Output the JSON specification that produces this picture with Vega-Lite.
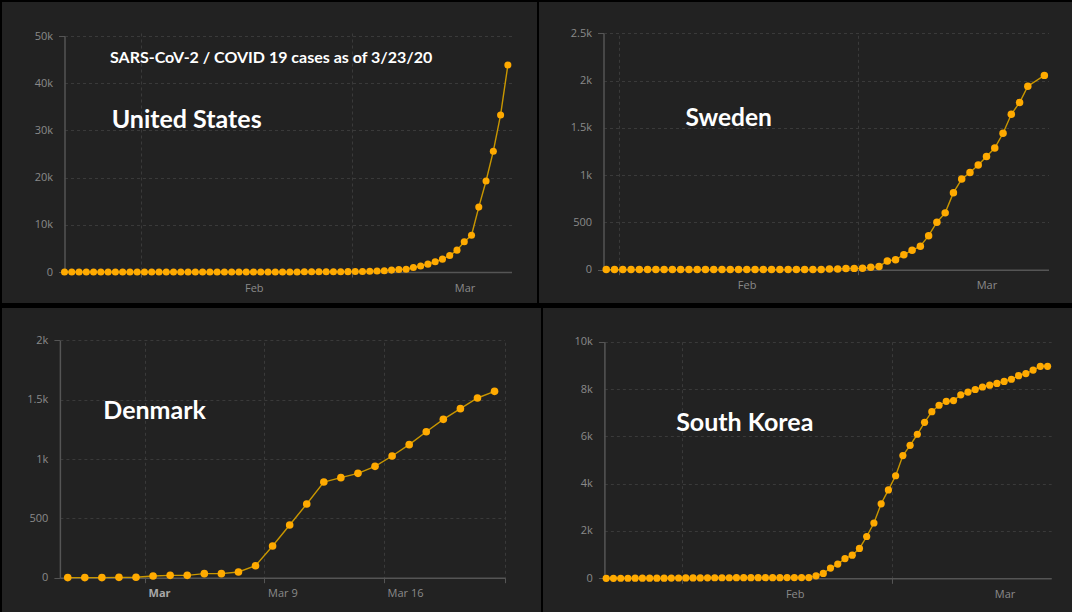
{
  "$schema": "https://vega.github.io/schema/vega-lite/v6.json",
  "background": "#000000",
  "padding": {"left": 2, "top": 2, "right": 0, "bottom": 0},
  "config": {
    "view": {"stroke": null, "fill": "#222222"},
    "axis": {"labelFont": "Open Sans", "labelFontSize": 11, "labelColor": "#8a8a8a", "domainColor": "#555555", "domainWidth": 1.5, "tickColor": "#555555", "tickSize": 5, "gridColor": "#3a3a3a", "gridDash": [3, 3], "labelFlush": false, "labelOverlap": false, "labelPadding": 5, "grid": true},
    "axisY": {"tickSize": 6, "labelPadding": 6, "labelExpr": "datum.value >= 1000 ? (datum.value / 1000) + 'k' : '' + datum.value"},
    "text": {"align": "left", "baseline": "alphabetic", "font": "Lato", "fontWeight": "bold", "fill": "#ffffff"}
  },
  "datasets": {
    "us": [
      {"date":"2020-01-22","cases":1},{"date":"2020-01-23","cases":1},{"date":"2020-01-24","cases":2},{"date":"2020-01-25","cases":2},{"date":"2020-01-26","cases":5},{"date":"2020-01-27","cases":5},{"date":"2020-01-28","cases":5},{"date":"2020-01-29","cases":5},{"date":"2020-01-30","cases":5},{"date":"2020-01-31","cases":7},
      {"date":"2020-02-01","cases":8},{"date":"2020-02-02","cases":8},{"date":"2020-02-03","cases":11},{"date":"2020-02-04","cases":11},{"date":"2020-02-05","cases":11},{"date":"2020-02-06","cases":11},{"date":"2020-02-07","cases":11},{"date":"2020-02-08","cases":11},{"date":"2020-02-09","cases":11},{"date":"2020-02-10","cases":11},
      {"date":"2020-02-11","cases":12},{"date":"2020-02-12","cases":12},{"date":"2020-02-13","cases":13},{"date":"2020-02-14","cases":13},{"date":"2020-02-15","cases":13},{"date":"2020-02-16","cases":13},{"date":"2020-02-17","cases":13},{"date":"2020-02-18","cases":13},{"date":"2020-02-19","cases":13},{"date":"2020-02-20","cases":13},
      {"date":"2020-02-21","cases":15},{"date":"2020-02-22","cases":15},{"date":"2020-02-23","cases":15},{"date":"2020-02-24","cases":51},{"date":"2020-02-25","cases":51},{"date":"2020-02-26","cases":57},{"date":"2020-02-27","cases":58},{"date":"2020-02-28","cases":60},{"date":"2020-02-29","cases":68},
      {"date":"2020-03-01","cases":74},{"date":"2020-03-02","cases":98},{"date":"2020-03-03","cases":118},{"date":"2020-03-04","cases":149},{"date":"2020-03-05","cases":217},{"date":"2020-03-06","cases":262},{"date":"2020-03-07","cases":402},{"date":"2020-03-08","cases":518},{"date":"2020-03-09","cases":583},{"date":"2020-03-10","cases":959},
      {"date":"2020-03-11","cases":1281},{"date":"2020-03-12","cases":1663},{"date":"2020-03-13","cases":2179},{"date":"2020-03-14","cases":2727},{"date":"2020-03-15","cases":3499},{"date":"2020-03-16","cases":4632},{"date":"2020-03-17","cases":6421},{"date":"2020-03-18","cases":7783},{"date":"2020-03-19","cases":13747},{"date":"2020-03-20","cases":19273},
      {"date":"2020-03-21","cases":25600},{"date":"2020-03-22","cases":33276},{"date":"2020-03-23","cases":43847}
    ],
    "se": [
      {"date":"2020-01-31","cases":1},
      {"date":"2020-02-01","cases":1},{"date":"2020-02-02","cases":1},{"date":"2020-02-03","cases":1},{"date":"2020-02-04","cases":1},{"date":"2020-02-05","cases":1},{"date":"2020-02-06","cases":1},{"date":"2020-02-07","cases":1},{"date":"2020-02-08","cases":1},{"date":"2020-02-09","cases":1},{"date":"2020-02-10","cases":1},
      {"date":"2020-02-11","cases":1},{"date":"2020-02-12","cases":1},{"date":"2020-02-13","cases":1},{"date":"2020-02-14","cases":1},{"date":"2020-02-15","cases":1},{"date":"2020-02-16","cases":1},{"date":"2020-02-17","cases":1},{"date":"2020-02-18","cases":1},{"date":"2020-02-19","cases":1},{"date":"2020-02-20","cases":1},
      {"date":"2020-02-21","cases":1},{"date":"2020-02-22","cases":1},{"date":"2020-02-23","cases":1},{"date":"2020-02-24","cases":1},{"date":"2020-02-25","cases":1},{"date":"2020-02-26","cases":2},{"date":"2020-02-27","cases":7},{"date":"2020-02-28","cases":7},{"date":"2020-02-29","cases":12},
      {"date":"2020-03-01","cases":14},{"date":"2020-03-02","cases":15},{"date":"2020-03-03","cases":25},{"date":"2020-03-04","cases":33},{"date":"2020-03-05","cases":92},{"date":"2020-03-06","cases":105},{"date":"2020-03-07","cases":159},{"date":"2020-03-08","cases":205},{"date":"2020-03-09","cases":248},{"date":"2020-03-10","cases":360},
      {"date":"2020-03-11","cases":502},{"date":"2020-03-12","cases":601},{"date":"2020-03-13","cases":815},{"date":"2020-03-14","cases":958},{"date":"2020-03-15","cases":1027},{"date":"2020-03-16","cases":1108},{"date":"2020-03-17","cases":1198},{"date":"2020-03-18","cases":1287},{"date":"2020-03-19","cases":1443},{"date":"2020-03-20","cases":1644},
      {"date":"2020-03-21","cases":1768},{"date":"2020-03-22","cases":1940},{"date":"2020-03-24","cases":2055}
    ],
    "dk": [
      {"date":"2020-02-27","cases":1},{"date":"2020-02-28","cases":1},{"date":"2020-02-29","cases":1},{"date":"2020-03-01","cases":3},{"date":"2020-03-02","cases":4},{"date":"2020-03-03","cases":14},{"date":"2020-03-04","cases":20},{"date":"2020-03-05","cases":20},{"date":"2020-03-06","cases":34},{"date":"2020-03-07","cases":34},
      {"date":"2020-03-08","cases":48},{"date":"2020-03-09","cases":101},{"date":"2020-03-10","cases":267},{"date":"2020-03-11","cases":444},{"date":"2020-03-12","cases":621},{"date":"2020-03-13","cases":806},{"date":"2020-03-14","cases":843},{"date":"2020-03-15","cases":879},{"date":"2020-03-16","cases":938},{"date":"2020-03-17","cases":1025},
      {"date":"2020-03-18","cases":1121},{"date":"2020-03-19","cases":1230},{"date":"2020-03-20","cases":1334},{"date":"2020-03-21","cases":1424},{"date":"2020-03-22","cases":1514},{"date":"2020-03-23","cases":1570}
    ],
    "kr": [
      {"date":"2020-01-22","cases":1},{"date":"2020-01-23","cases":1},{"date":"2020-01-24","cases":2},{"date":"2020-01-25","cases":2},{"date":"2020-01-26","cases":3},{"date":"2020-01-27","cases":4},{"date":"2020-01-28","cases":4},{"date":"2020-01-29","cases":4},{"date":"2020-01-30","cases":4},{"date":"2020-01-31","cases":11},
      {"date":"2020-02-01","cases":12},{"date":"2020-02-02","cases":15},{"date":"2020-02-03","cases":15},{"date":"2020-02-04","cases":16},{"date":"2020-02-05","cases":19},{"date":"2020-02-06","cases":23},{"date":"2020-02-07","cases":24},{"date":"2020-02-08","cases":24},{"date":"2020-02-09","cases":25},{"date":"2020-02-10","cases":27},
      {"date":"2020-02-11","cases":28},{"date":"2020-02-12","cases":28},{"date":"2020-02-13","cases":28},{"date":"2020-02-14","cases":28},{"date":"2020-02-15","cases":28},{"date":"2020-02-16","cases":29},{"date":"2020-02-17","cases":30},{"date":"2020-02-18","cases":31},{"date":"2020-02-19","cases":31},{"date":"2020-02-20","cases":104},
      {"date":"2020-02-21","cases":204},{"date":"2020-02-22","cases":433},{"date":"2020-02-23","cases":602},{"date":"2020-02-24","cases":833},{"date":"2020-02-25","cases":977},{"date":"2020-02-26","cases":1261},{"date":"2020-02-27","cases":1766},{"date":"2020-02-28","cases":2337},{"date":"2020-02-29","cases":3150},
      {"date":"2020-03-01","cases":3736},{"date":"2020-03-02","cases":4335},{"date":"2020-03-03","cases":5186},{"date":"2020-03-04","cases":5621},{"date":"2020-03-05","cases":6088},{"date":"2020-03-06","cases":6593},{"date":"2020-03-07","cases":7041},{"date":"2020-03-08","cases":7314},{"date":"2020-03-09","cases":7478},{"date":"2020-03-10","cases":7513},
      {"date":"2020-03-11","cases":7755},{"date":"2020-03-12","cases":7869},{"date":"2020-03-13","cases":7979},{"date":"2020-03-14","cases":8086},{"date":"2020-03-15","cases":8162},{"date":"2020-03-16","cases":8236},{"date":"2020-03-17","cases":8320},{"date":"2020-03-18","cases":8413},{"date":"2020-03-19","cases":8565},{"date":"2020-03-20","cases":8652},
      {"date":"2020-03-21","cases":8799},{"date":"2020-03-22","cases":8960},{"date":"2020-03-23","cases":8961}
    ]
  },
  "vconcat": [
    {
      "spacing": 2,
      "hconcat": [
        {
          "width": 535, "height": 301,
          "layer": [
            {"data": {"name": "us"},
              "mark": {"type": "line", "color": "#C99700", "strokeWidth": 1.4},
              "encoding": {
                "x": {"field": "date", "type": "temporal",
                  "scale": {"type": "utc", "domain": [{"year": 2020, "month": 1, "date": 22, "utc": true}, {"year": 2020, "month": 3, "date": 23, "hours": 12, "utc": true}], "range": [62.5, 509.5]},
                  "axis": {"title": null, "values": [{"year": 2020, "month": 2, "date": 1, "hours": 12, "utc": true}, {"year": 2020, "month": 3, "date": 1, "hours": 12, "utc": true}], "labelExpr": "utcFormat(datum.value, '%b')", "labelOffset": 113, "offset": -31}},
                "y": {"field": "cases", "type": "quantitative",
                  "scale": {"domain": [0, 50000], "range": [270, 34], "nice": false},
                  "axis": {"title": null, "values": [0, 10000, 20000, 30000, 40000, 50000], "offset": -62.5,
                    "tickColor": {"condition": {"test": "datum.value == 0 || datum.value == 50000", "value": "#555555"}, "value": "transparent"}}}
              }},
            {"data": {"name": "us"},
              "mark": {"type": "circle", "color": "#FFAA00", "size": 50, "opacity": 1},
              "encoding": {"x": {"field": "date", "type": "temporal"}, "y": {"field": "cases", "type": "quantitative"}}},
            {"data": {"values": [{"label": "SARS-CoV-2 / COVID 19 cases as of 3/23/20"}]},
              "mark": {"type": "text", "fontSize": 16},
              "encoding": {"x": {"datum": 1580192100000, "type": "temporal"}, "y": {"datum": 44216, "type": "quantitative"}, "text": {"field": "label", "type": "nominal"}}},
            {"data": {"values": [{"label": "United States"}]},
              "mark": {"type": "text", "fontSize": 25},
              "encoding": {"x": {"datum": 1580212200000, "type": "temporal"}, "y": {"datum": 30445, "type": "quantitative"}, "text": {"field": "label", "type": "nominal"}}}
          ]
        },
        {
          "width": 533, "height": 301,
          "layer": [
            {"data": {"name": "se"},
              "mark": {"type": "line", "color": "#C99700", "strokeWidth": 1.4},
              "encoding": {
                "x": {"field": "date", "type": "temporal",
                  "scale": {"type": "utc", "domain": [{"year": 2020, "month": 1, "date": 30, "hours": 16, "utc": true}, {"year": 2020, "month": 3, "date": 24, "hours": 12, "utc": true}], "range": [64.5, 509.5]},
                  "axis": {"title": null, "values": [{"year": 2020, "month": 2, "date": 1, "hours": 12, "utc": true}, {"year": 2020, "month": 3, "date": 1, "hours": 12, "utc": true}], "labelExpr": "utcFormat(datum.value, '%b')", "labelOffset": 128, "offset": -33.3}},
                "y": {"field": "cases", "type": "quantitative",
                  "scale": {"domain": [0, 2500], "range": [267.7, 31.3], "nice": false},
                  "axis": {"title": null, "values": [0, 500, 1000, 1500, 2000, 2500], "offset": -64.5,
                    "tickColor": {"condition": {"test": "datum.value == 0 || datum.value == 2500", "value": "#555555"}, "value": "transparent"}}}
              }},
            {"data": {"name": "se"},
              "mark": {"type": "circle", "color": "#FFAA00", "size": 56, "opacity": 1},
              "encoding": {"x": {"field": "date", "type": "temporal"}, "y": {"field": "cases", "type": "quantitative"}}},
            {"data": {"values": [{"label": "Sweden"}]},
              "mark": {"type": "text", "fontSize": 24.5},
              "encoding": {"x": {"datum": 1581256200000, "type": "temporal"}, "y": {"datum": 1520, "type": "quantitative"}, "text": {"field": "label", "type": "nominal"}}}
          ]
        }
      ]
    },
    {
      "spacing": 2,
      "hconcat": [
        {
          "width": 539, "height": 304,
          "layer": [
            {"data": {"name": "dk"},
              "mark": {"type": "line", "color": "#C99700", "strokeWidth": 1.4},
              "encoding": {
                "x": {"field": "date", "type": "temporal",
                  "scale": {"type": "utc", "domain": [{"year": 2020, "month": 2, "date": 26, "hours": 13, "utc": true}, {"year": 2020, "month": 3, "date": 23, "hours": 14, "utc": true}], "range": [57.9, 502.5]},
                  "axis": {"title": null, "values": [{"year": 2020, "month": 3, "date": 2, "hours": 12, "utc": true}, {"year": 2020, "month": 3, "date": 9, "hours": 12, "utc": true}, {"year": 2020, "month": 3, "date": 16, "hours": 12, "utc": true}, {"year": 2020, "month": 3, "date": 23, "hours": 14, "utc": true}],
                    "labelExpr": "utcdate(datum.value) == 23 ? '' : (utcdate(datum.value) == 2 ? 'Mar' : utcFormat(datum.value, '%b %-d'))",
                    "labelAlign": "left", "labelOffset": 3.5, "offset": -34.3,
                    "labelFontWeight": {"condition": {"test": "utcdate(datum.value) == 2", "value": "bold"}, "value": "normal"},
                    "labelColor": {"condition": {"test": "utcdate(datum.value) == 2", "value": "#a8a8a8"}, "value": "#8a8a8a"}}},
                "y": {"field": "cases", "type": "quantitative",
                  "scale": {"domain": [0, 2000], "range": [269.7, 32.3], "nice": false},
                  "axis": {"title": null, "values": [0, 500, 1000, 1500, 2000], "offset": -57.9,
                    "tickColor": {"condition": {"test": "datum.value == 0 || datum.value == 2000", "value": "#555555"}, "value": "transparent"}}}
              }},
            {"data": {"name": "dk"},
              "mark": {"type": "circle", "color": "#FFAA00", "size": 58, "opacity": 1},
              "encoding": {"x": {"field": "date", "type": "temporal"}, "y": {"field": "cases", "type": "quantitative"}}},
            {"data": {"values": [{"label": "Denmark"}]},
              "mark": {"type": "text", "fontSize": 25},
              "encoding": {"x": {"datum": 1582941600000, "type": "temporal"}, "y": {"datum": 1334, "type": "quantitative"}, "text": {"field": "label", "type": "nominal"}}}
          ]
        },
        {
          "width": 529, "height": 304,
          "layer": [
            {"data": {"name": "kr"},
              "mark": {"type": "line", "color": "#C99700", "strokeWidth": 1.4},
              "encoding": {
                "x": {"field": "date", "type": "temporal",
                  "scale": {"type": "utc", "domain": [{"year": 2020, "month": 1, "date": 21, "hours": 18, "utc": true}, {"year": 2020, "month": 3, "date": 23, "hours": 12, "utc": true}], "range": [61.4, 508.2]},
                  "axis": {"title": null, "values": [{"year": 2020, "month": 2, "date": 1, "hours": 12, "utc": true}, {"year": 2020, "month": 3, "date": 1, "hours": 12, "utc": true}], "labelExpr": "utcFormat(datum.value, '%b')", "labelOffset": 112.5, "offset": -33.7}},
                "y": {"field": "cases", "type": "quantitative",
                  "scale": {"domain": [0, 10000], "range": [270.3, 33.7], "nice": false},
                  "axis": {"title": null, "values": [0, 2000, 4000, 6000, 8000, 10000], "offset": -61.4,
                    "tickColor": {"condition": {"test": "datum.value == 0 || datum.value == 10000", "value": "#555555"}, "value": "transparent"}}}
              }},
            {"data": {"name": "kr"},
              "mark": {"type": "circle", "color": "#FFAA00", "size": 52, "opacity": 1},
              "encoding": {"x": {"field": "date", "type": "temporal"}, "y": {"field": "cases", "type": "quantitative"}}},
            {"data": {"values": [{"label": "South Korea"}]},
              "mark": {"type": "text", "fontSize": 25},
              "encoding": {"x": {"datum": 1580486400000, "type": "temporal"}, "y": {"datum": 6226, "type": "quantitative"}, "text": {"field": "label", "type": "nominal"}}}
          ]
        }
      ]
    }
  ],
  "spacing": 5
}
